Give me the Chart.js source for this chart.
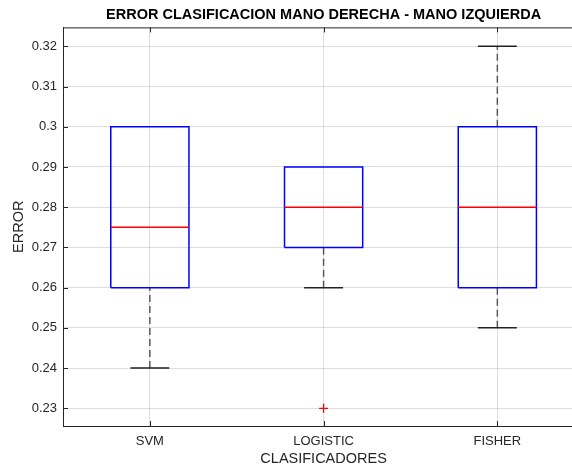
<!DOCTYPE html>
<html>
<head>
<meta charset="utf-8">
<title>Error clasificacion</title>
<script src="https://cdn.jsdelivr.net/npm/chart.js@4.4.1/dist/chart.umd.min.js"></script>
<style>
html, body { margin: 0; padding: 0; overflow: hidden; background: #fff; }
#wrap { width: 590px; height: 470px; }
</style>
</head>
<body>
<div id="wrap"><canvas id="grafico"></canvas></div>
<script>
// datos del boxplot por clasificador
const clasificadores = ['SVM', 'LOGISTIC', 'FISHER'];
const bigoteInf = [0.24, 0.26, 0.25];
const cuartil1 = [0.26, 0.27, 0.26];
const mediana = [0.275, 0.28, 0.28];
const cuartil3 = [0.30, 0.29, 0.30];
const bigoteSup = [0.30, 0.29, 0.32];
const atipicos = [[], [0.23], []];
const ticksY = [0.23, 0.24, 0.25, 0.26, 0.27, 0.28, 0.29, 0.30, 0.31, 0.32];

const MEDIA_CAJA = 0.225;
const MEDIA_TOPE = 0.112;
const COLOR_EJE = '#262626';
const FUENTE = '"Liberation Sans", Arial, sans-serif';

const cajas = [], medianas = [], bigotes = [], topes = [], puntos = [];
clasificadores.forEach((c, i) => {
	const x = i + 1;
	cajas.push({x: x - MEDIA_CAJA, y: cuartil1[i]}, {x: x + MEDIA_CAJA, y: cuartil1[i]},
		{x: x + MEDIA_CAJA, y: cuartil3[i]}, {x: x - MEDIA_CAJA, y: cuartil3[i]},
		{x: x - MEDIA_CAJA, y: cuartil1[i]}, {x: x, y: null});
	medianas.push({x: x - MEDIA_CAJA, y: mediana[i]}, {x: x + MEDIA_CAJA, y: mediana[i]}, {x: x, y: null});
	if (bigoteSup[i] > cuartil3[i]) {
		bigotes.push({x: x, y: cuartil3[i]}, {x: x, y: bigoteSup[i]}, {x: x, y: null});
		topes.push({x: x - MEDIA_TOPE, y: bigoteSup[i]}, {x: x + MEDIA_TOPE, y: bigoteSup[i]}, {x: x, y: null});
	}
	if (bigoteInf[i] < cuartil1[i]) {
		bigotes.push({x: x, y: bigoteInf[i]}, {x: x, y: cuartil1[i]}, {x: x, y: null});
		topes.push({x: x - MEDIA_TOPE, y: bigoteInf[i]}, {x: x + MEDIA_TOPE, y: bigoteInf[i]}, {x: x, y: null});
	}
	atipicos[i].forEach(v => puntos.push({x: x, y: v}));
});

const linea = (data, color, extra) => Object.assign({
	data: data,
	showLine: true,
	spanGaps: false,
	borderColor: color,
	borderWidth: 1.5,
	pointRadius: 0,
	fill: false
}, extra || {});

// marco superior y marcas de eje hacia dentro
const marco = {
	id: 'marco',
	afterDraw(chart) {
		const {ctx, chartArea: a, scales} = chart;
		ctx.save();
		ctx.strokeStyle = COLOR_EJE;
		ctx.lineWidth = 1;
		ctx.beginPath();
		ctx.moveTo(a.left, a.top + 0.5);
		ctx.lineTo(a.right, a.top + 0.5);
		scales.x.ticks.forEach(t => {
			const px = Math.round(scales.x.getPixelForValue(t.value)) + 0.5;
			ctx.moveTo(px, a.bottom);
			ctx.lineTo(px, a.bottom - 5);
			ctx.moveTo(px, a.top);
			ctx.lineTo(px, a.top + 5);
		});
		scales.y.ticks.forEach(t => {
			const py = Math.round(scales.y.getPixelForValue(t.value)) + 0.5;
			ctx.moveTo(a.left, py);
			ctx.lineTo(a.left + 5, py);
		});
		ctx.stroke();
		ctx.restore();
	}
};

new Chart('grafico', {
	type: 'scatter',
	data: {
		datasets: [
			linea(puntos, 'rgb(255,0,0)', {showLine: false, pointRadius: 4.5, pointStyle: 'cross', pointBorderWidth: 1.3}),
			linea(medianas, 'rgb(255,0,0)'),
			linea(cajas, 'rgb(0,0,255)'),
			linea(topes, '#222'),
			linea(bigotes, 'rgba(0,0,0,0.62)', {borderDash: [7, 4]})
		]
	},
	options: {
		responsive: true,
		maintainAspectRatio: false,
		animation: false,
		layout: {padding: 0},
		plugins: {
			legend: {display: false},
			tooltip: {enabled: false},
			title: {
				display: true,
				fullSize: false,
				text: 'ERROR CLASIFICACION MANO DERECHA - MANO IZQUIERDA',
				color: '#000',
				font: {family: FUENTE, size: 14.5, weight: 'bold'},
				padding: {top: 6, bottom: 4}
			}
		},
		scales: {
			x: {
				type: 'linear',
				min: 0.5,
				max: 3.5,
				afterBuildTicks: s => { s.ticks = clasificadores.map((c, i) => ({value: i + 1})); },
				afterFit: s => { s.height = 44; },
				ticks: {
					callback: v => clasificadores[v - 1],
					color: COLOR_EJE,
					font: {family: FUENTE, size: 13},
					padding: 8,
					maxRotation: 0
				},
				grid: {color: 'rgba(0,0,0,0.13)', drawTicks: false},
				border: {color: COLOR_EJE},
				title: {
					display: true,
					text: 'CLASIFICADORES',
					color: COLOR_EJE,
					font: {family: FUENTE, size: 14.5},
					padding: {top: 0, bottom: 2}
				}
			},
			y: {
				min: 0.2256,
				max: 0.3247,
				afterBuildTicks: s => { s.ticks = ticksY.map(v => ({value: v})); },
				afterFit: s => { s.width = 63; },
				ticks: {
					callback: v => String(+v.toFixed(2)),
					color: COLOR_EJE,
					font: {family: FUENTE, size: 13},
					padding: 6
				},
				grid: {color: 'rgba(0,0,0,0.13)', drawTicks: false},
				border: {color: COLOR_EJE},
				title: {
					display: true,
					text: 'ERROR',
					color: COLOR_EJE,
					font: {family: FUENTE, size: 14.5},
					padding: {top: 10, bottom: 0}
				}
			}
		}
	},
	plugins: [marco]
});
</script>
</body>
</html>
